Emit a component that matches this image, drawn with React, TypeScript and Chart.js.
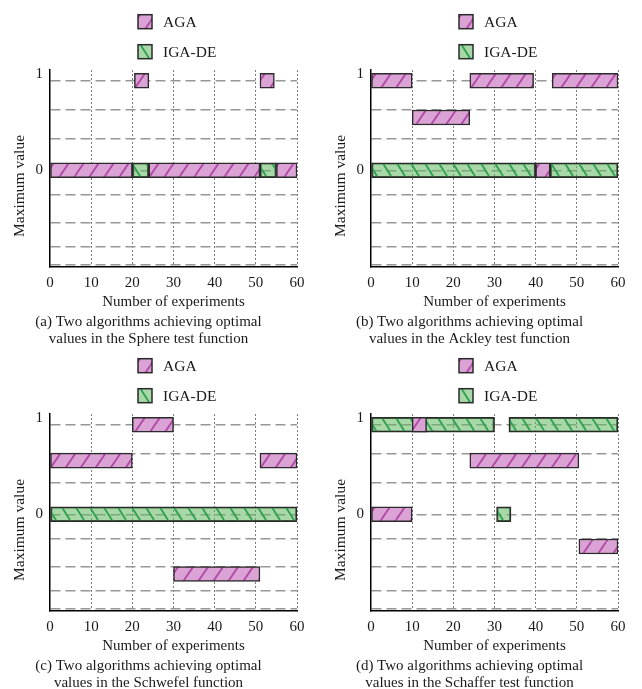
import React, { useEffect, useRef } from 'react';
import { Chart, registerables } from 'chart.js';

Chart.register(...registerables);

const SERIF = '"Liberation Serif", "Times New Roman", serif';
const TEXT = '#1a1a1a';
const BORDER = '#2a2a2a';

const seriesNames = ['AGA', 'IGA-DE'];
const xTicks = [0, 10, 20, 30, 40, 50, 60];
const yGridLevels = [1, 0.676, 0.349, 0, -0.274, -0.59, -0.858, -1.056];
const yTickValues = [1.078, 0];
const yTickLabels = ['1', '0'];
const yMin = -1.08;
const yMax = 1.12;
const xTitle = 'Number of experiments';
const yTitle = 'Maximum value';

// (a) Sphere
const sphereAgaStart = [20.5, 51, 0, 24, 55];
const sphereAgaEnd = [24, 54.5, 20, 51, 60];
const sphereAgaLevel = [1, 1, 0, 0, 0];
const sphereIgaStart = [20, 51];
const sphereIgaEnd = [24, 55];
const sphereIgaLevel = [0, 0];
const sphereCaption = ['(a) Two algorithms achieving optimal', 'values in the Sphere test function'];

// (b) Ackley
const ackleyAgaStart = [0, 24, 44, 10, 40];
const ackleyAgaEnd = [10, 39.5, 60, 24, 43.5];
const ackleyAgaLevel = [1, 1, 1, 0.59, 0];
const ackleyIgaStart = [0, 43.5];
const ackleyIgaEnd = [40, 60];
const ackleyIgaLevel = [0, 0];
const ackleyCaption = ['(b) Two algorithms achieving optimal', 'values in the Ackley test function'];

// (c) Schwefel
const schwefelAgaStart = [20, 0, 51, 30];
const schwefelAgaEnd = [30, 20, 60, 51];
const schwefelAgaLevel = [1, 0.6, 0.6, -0.667];
const schwefelIgaStart = [0];
const schwefelIgaEnd = [60];
const schwefelIgaLevel = [0];
const schwefelCaption = ['(c) Two algorithms achieving optimal', 'values in the Schwefel function'];

// (d) Schaffer
const schafferAgaStart = [10, 24, 0, 50.5];
const schafferAgaEnd = [13.5, 50.5, 10, 60];
const schafferAgaLevel = [1, 0.6, 0, -0.36];
const schafferIgaStart = [0, 33.5, 30.5];
const schafferIgaEnd = [30, 60, 34];
const schafferIgaLevel = [1, 1, 0];
const schafferCaption = ['(d) Two algorithms achieving optimal', 'values in the Schaffer test function'];

function makePattern(base: string, stripe: string, w: number, h: number, forward: boolean) {
  const c = document.createElement('canvas');
  c.width = w;
  c.height = h;
  const g = c.getContext('2d')!;
  g.fillStyle = base;
  g.fillRect(0, 0, w, h);
  g.strokeStyle = stripe;
  g.lineWidth = 1.9;
  g.beginPath();
  for (const dx of [-w, 0, w]) {
    if (forward) {
      g.moveTo(dx, h);
      g.lineTo(dx + w, 0);
    } else {
      g.moveTo(dx, 0);
      g.lineTo(dx + w, h);
    }
  }
  g.stroke();
  return g.createPattern(c, 'repeat')!;
}

const stackedLegend = {
  id: 'stackedLegend',
  afterDraw(chart: any) {
    const ctx = chart.ctx;
    const area = chart.chartArea;
    const left = area.left + 88;
    const rows = [21.7, 51.7];
    ctx.save();
    ctx.font = `15.5px ${SERIF}`;
    ctx.textBaseline = 'middle';
    ctx.textAlign = 'left';
    chart.data.datasets.forEach((ds: any, i: number) => {
      const cy = rows[i];
      ctx.fillStyle = ds.backgroundColor;
      ctx.fillRect(left, cy - 7, 14, 14);
      ctx.strokeStyle = BORDER;
      ctx.lineWidth = 1.5;
      ctx.strokeRect(left, cy - 7, 14, 14);
      ctx.fillStyle = TEXT;
      ctx.fillText(ds.label, left + 25, cy + 1);
    });
    ctx.restore();
  },
};

const yTitlePlugin = {
  id: 'yTitlePlugin',
  afterDraw(chart: any) {
    const ctx = chart.ctx;
    const area = chart.chartArea;
    ctx.save();
    ctx.translate(20, area.top + 116);
    ctx.rotate(-Math.PI / 2);
    ctx.font = `15.5px ${SERIF}`;
    ctx.fillStyle = TEXT;
    ctx.textAlign = 'center';
    ctx.textBaseline = 'middle';
    ctx.fillText(yTitle, 0, 0);
    ctx.restore();
  },
};

type PanelProps = {
  agaStart: number[];
  agaEnd: number[];
  agaLevel: number[];
  igaStart: number[];
  igaEnd: number[];
  igaLevel: number[];
  caption: string[];
  left: number;
  top: number;
};

function Panel(p: PanelProps) {
  const ref = useRef<HTMLCanvasElement | null>(null);
  useEffect(() => {
    const canvas = ref.current!;
    const pink = makePattern('#dba3d5', '#b04ca6', 15, 22, true);
    const green = makePattern('rgba(97,184,97,0.55)', '#33a053', 14, 22, false);
    const font = { family: SERIF, size: 15, weight: 'normal' as const };
    const aga = p.agaStart.map((s, i) => ({ x: [s, p.agaEnd[i]], y: p.agaLevel[i] }));
    const iga = p.igaStart.map((s, i) => ({ x: [s, p.igaEnd[i]], y: p.igaLevel[i] }));
    const chart = new Chart(canvas, {
      type: 'bar',
      data: {
        datasets: [
          {
            label: seriesNames[0],
            data: aga as any,
            backgroundColor: pink as any,
            borderColor: BORDER,
            borderWidth: 1.5,
            borderSkipped: false,
            barThickness: 15,
            grouped: false,
          },
          {
            label: seriesNames[1],
            data: iga as any,
            backgroundColor: green as any,
            borderColor: BORDER,
            borderWidth: 1.5,
            borderSkipped: false,
            barThickness: 15,
            grouped: false,
          },
        ],
      },
      options: {
        animation: false,
        responsive: false,
        indexAxis: 'y',
        layout: { padding: { top: 70, right: 24, left: 0, bottom: 0 } },
        plugins: {
          legend: { display: false },
          tooltip: { enabled: false },
          title: {
            display: true,
            position: 'bottom',
            text: p.caption,
            color: TEXT,
            font: { family: SERIF, size: 15, weight: 'normal', lineHeight: 1.17 },
            padding: { top: 2.3, bottom: 3.9 },
          },
        },
        scales: {
          x: {
            type: 'linear',
            min: 0,
            max: 60,
            afterBuildTicks: (s: any) => {
              s.ticks = xTicks.map((v) => ({ value: v }));
            },
            afterFit: (s: any) => {
              s.height = 43.7;
            },
            ticks: { font, color: TEXT, padding: 6.7, maxRotation: 0, autoSkip: false },
            grid: {
              color: (c: any) => (c.tick && c.tick.value === 0 ? 'rgba(0,0,0,0)' : '#7a7a7a'),
              lineWidth: 1,
              drawTicks: false,
            },
            border: { color: '#000', width: 1.5, dash: [2, 2] },
            title: { display: true, text: xTitle, font, color: TEXT, padding: { top: 0, bottom: 0 } },
          },
          y: {
            type: 'linear',
            min: yMin,
            max: yMax,
            offset: false,
            afterBuildTicks: (s: any) => {
              s.ticks = [...yGridLevels, ...yTickValues.filter((v) => !yGridLevels.includes(v))]
                .sort((a, b) => a - b)
                .map((v) => ({ value: v }));
            },
            afterFit: (s: any) => {
              s.width = 50;
            },
            ticks: {
              autoSkip: false,
              padding: 7,
              font,
              color: TEXT,
              callback: (value: any) => {
                const i = yTickValues.indexOf(Number(value));
                return i >= 0 ? yTickLabels[i] : '';
              },
            },
            grid: {
              offset: false,
              color: (c: any) => (c.tick && yGridLevels.includes(c.tick.value) ? '#979797' : 'rgba(0,0,0,0)'),
              lineWidth: 1.5,
              drawTicks: false,
            },
            border: { color: '#000', width: 1.5, dash: [10, 5] },
          },
        },
      } as any,
      plugins: [stackedLegend, yTitlePlugin],
    });
    return () => chart.destroy();
  }, []);
  return (
    <canvas
      ref={ref}
      width={321}
      height={352}
      style={{ position: 'absolute', left: p.left, top: p.top, width: 321, height: 352 }}
    />
  );
}

export default function App() {
  return (
    <div
      style={{
        position: 'absolute',
        left: 0,
        top: 0,
        width: 642,
        height: 689,
        overflow: 'hidden',
        background: '#fff',
      }}
    >
      <Panel
        agaStart={sphereAgaStart}
        agaEnd={sphereAgaEnd}
        agaLevel={sphereAgaLevel}
        igaStart={sphereIgaStart}
        igaEnd={sphereIgaEnd}
        igaLevel={sphereIgaLevel}
        caption={sphereCaption}
        left={0}
        top={0}
      />
      <Panel
        agaStart={ackleyAgaStart}
        agaEnd={ackleyAgaEnd}
        agaLevel={ackleyAgaLevel}
        igaStart={ackleyIgaStart}
        igaEnd={ackleyIgaEnd}
        igaLevel={ackleyIgaLevel}
        caption={ackleyCaption}
        left={321}
        top={0}
      />
      <Panel
        agaStart={schwefelAgaStart}
        agaEnd={schwefelAgaEnd}
        agaLevel={schwefelAgaLevel}
        igaStart={schwefelIgaStart}
        igaEnd={schwefelIgaEnd}
        igaLevel={schwefelIgaLevel}
        caption={schwefelCaption}
        left={0}
        top={344}
      />
      <Panel
        agaStart={schafferAgaStart}
        agaEnd={schafferAgaEnd}
        agaLevel={schafferAgaLevel}
        igaStart={schafferIgaStart}
        igaEnd={schafferIgaEnd}
        igaLevel={schafferIgaLevel}
        caption={schafferCaption}
        left={321}
        top={344}
      />
    </div>
  );
}
